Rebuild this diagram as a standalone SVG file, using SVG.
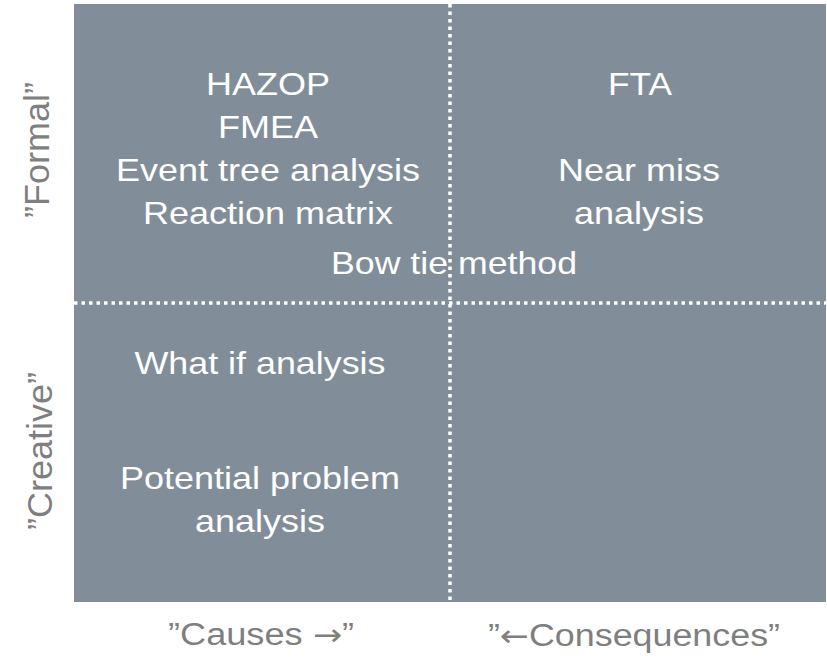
<svg xmlns="http://www.w3.org/2000/svg" width="827" height="658" viewBox="0 0 827 658">
<style>
.w{font-family:"Liberation Sans",Arial,sans-serif;font-size:32px;fill:#ffffff;text-anchor:middle}
.g{font-family:"Liberation Sans",Arial,sans-serif;font-size:31px;fill:#7f7f7f;text-anchor:middle}
.a{font-family:"DejaVu Sans",sans-serif;font-size:30px}
.v{font-family:"Liberation Sans",Arial,sans-serif;font-size:35px;fill:#7f7f7f;text-anchor:middle}
.d{stroke:#ffffff;stroke-width:3.5;stroke-dasharray:3.5 4;fill:none}
</style>
<rect id="matrix" x="74" y="4" width="752" height="598" fill="#818e99"/>
<g id="connectors">
<line class="d" x1="450" y1="4" x2="450" y2="602"/>
<line class="d" x1="74" y1="303" x2="826" y2="303"/>
</g>
<g id="formal-causes">
<text class="w" x="268" y="95" textLength="124" lengthAdjust="spacingAndGlyphs">HAZOP</text>
<text class="w" x="268" y="138" textLength="100" lengthAdjust="spacingAndGlyphs">FMEA</text>
<text class="w" x="268" y="181" textLength="304" lengthAdjust="spacingAndGlyphs">Event tree analysis</text>
<text class="w" x="268" y="224" textLength="250" lengthAdjust="spacingAndGlyphs">Reaction matrix</text>
</g>
<g id="formal-consequences">
<text class="w" x="640" y="95" textLength="64" lengthAdjust="spacingAndGlyphs">FTA</text>
<text class="w" x="639" y="181" textLength="162" lengthAdjust="spacingAndGlyphs">Near miss</text>
<text class="w" x="639" y="224" textLength="130" lengthAdjust="spacingAndGlyphs">analysis</text>
</g>
<g id="bowtie">
<text class="w" x="454" y="274" textLength="246" lengthAdjust="spacingAndGlyphs">Bow tie method</text>
</g>
<g id="creative-causes">
<text class="w" x="260" y="374" textLength="251" lengthAdjust="spacingAndGlyphs">What if analysis</text>
<text class="w" x="260" y="489" textLength="280" lengthAdjust="spacingAndGlyphs">Potential problem</text>
<text class="w" x="260" y="532" textLength="130" lengthAdjust="spacingAndGlyphs">analysis</text>
</g>
<g id="axis-labels">
<text class="v" transform="translate(49,150) rotate(-90)" x="0" y="0" textLength="136" lengthAdjust="spacingAndGlyphs">”Formal”</text>
<text class="v" transform="translate(52,451) rotate(-90)" x="0" y="0" textLength="158" lengthAdjust="spacingAndGlyphs">”Creative”</text>
<text class="g" x="261" y="645" textLength="186" lengthAdjust="spacingAndGlyphs">”Causes <tspan class="a">→</tspan>”</text>
<text class="g" x="634" y="646" textLength="292" lengthAdjust="spacingAndGlyphs">”<tspan class="a">←</tspan>Consequences”</text>
</g>
</svg>
